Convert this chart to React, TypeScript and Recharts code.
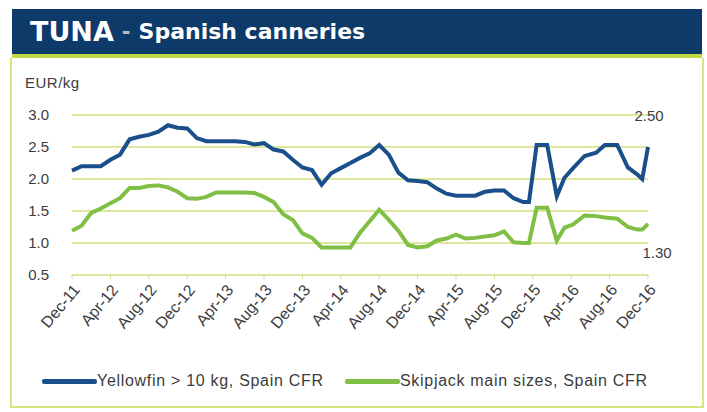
import { CartesianGrid, Legend, Line, LineChart, XAxis, YAxis } from "recharts";

// month offsets from Dec-11 (0) to Dec-16 (60); a few extra points around the spikes
const months = [
  0, 1, 2, 3, 4, 5, 6, 7, 8, 9, 10, 11, 12, 13, 14, 15, 16, 17, 18, 19, 20,
  21, 22, 23, 24, 25, 26, 27, 28, 29, 30, 31, 32, 33, 34, 35, 36, 37, 38, 39,
  40, 41, 42, 43, 44, 45, 46, 47, 47.6, 48.4, 49.5, 50.5, 51.3, 52.2, 53.4,
  54.6, 55.5, 56.8, 57.9, 58.9, 59.4, 60,
];

const yellowfin = [
  2.13, 2.2, 2.2, 2.2, 2.3, 2.38, 2.62, 2.66, 2.69, 2.74, 2.84, 2.8, 2.79,
  2.64, 2.59, 2.59, 2.59, 2.59, 2.58, 2.54, 2.56, 2.46, 2.43, 2.3, 2.18, 2.14,
  1.91, 2.09, 2.17, 2.25, 2.33, 2.4, 2.53, 2.38, 2.1, 1.98, 1.97, 1.95, 1.85,
  1.77, 1.74, 1.74, 1.74, 1.8, 1.82, 1.82, 1.7, 1.64, 1.64, 2.53, 2.53, 1.73,
  2.02, 2.17, 2.36, 2.41, 2.53, 2.53, 2.18, 2.07, 2.0, 2.5,
];

const skipjack = [
  1.19, 1.27, 1.47, 1.54, 1.62, 1.7, 1.86, 1.86, 1.89, 1.9, 1.87, 1.8, 1.7,
  1.69, 1.72, 1.79, 1.79, 1.79, 1.79, 1.78, 1.72, 1.64, 1.45, 1.36, 1.15, 1.08,
  0.93, 0.93, 0.93, 0.93, 1.16, 1.34, 1.52, 1.36, 1.19, 0.97, 0.93, 0.95, 1.04,
  1.07, 1.13, 1.07, 1.08, 1.1, 1.12, 1.18, 1.01, 1.0, 1.0, 1.55, 1.55, 1.04,
  1.24, 1.29, 1.43, 1.42, 1.4, 1.38, 1.25, 1.21, 1.21, 1.3,
];

const xTicks = [0, 4, 8, 12, 16, 20, 24, 28, 32, 36, 40, 44, 48, 52, 56, 60];
const xLabels = [
  "Dec-11", "Apr-12", "Aug-12", "Dec-12", "Apr-13", "Aug-13", "Dec-13", "Apr-14",
  "Aug-14", "Dec-14", "Apr-15", "Aug-15", "Dec-15", "Apr-16", "Aug-16", "Dec-16",
];
const yTicks = [0.5, 1.0, 1.5, 2.0, 2.5, 3.0];

const seriesNames = ["Yellowfin > 10 kg, Spain CFR", "Skipjack main sizes, Spain CFR"];

const BLUE = "#1b4f8c";
const GREEN = "#7fbf45";
const GRID = "#e0e69e";
const TEXT = "#3c3c3c";
const FONT = "Arial, 'Liberation Sans', Helvetica, sans-serif";

const data = months.map((t, i) => ({
  t,
  yellowfin: yellowfin[i],
  skipjack: skipjack[i],
}));

const lastIndex = data.length - 1;

function endLabel(dx: number, dy: number) {
  return (props: any) => {
    const { x, y, index, value } = props;
    if (index !== lastIndex) return null;
    return (
      <text
        x={x + dx}
        y={y + dy}
        textAnchor="middle"
        dominantBaseline="central"
        fontSize={15}
        fontFamily={FONT}
        fill={TEXT}
      >
        {Number(value).toFixed(2)}
      </text>
    );
  };
}

function LegendContent({ payload }: any) {
  const lefts = [42, 345];
  const items = [...(payload || [])].sort(
    (a: any, b: any) => seriesNames.indexOf(a.value) - seriesNames.indexOf(b.value)
  );
  return (
    <div style={{ position: "relative", height: 20 }}>
      {items.map((item: any, i: number) => (
        <div
          key={item.value}
          style={{
            position: "absolute",
            left: lefts[i],
            top: 0,
            display: "flex",
            alignItems: "center",
            whiteSpace: "nowrap",
          }}
        >
          <span
            style={{
              display: "inline-block",
              width: 55,
              height: 5,
              background: item.color,
              borderRadius: 2,
            }}
          />
          <span
            style={{
              fontFamily: FONT,
              fontSize: 16,
              letterSpacing: 0.7,
              color: TEXT,
            }}
          >
            {item.value}
          </span>
        </div>
      ))}
    </div>
  );
}

export default function App() {
  return (
    <div
      style={{
        position: "absolute",
        left: 0,
        top: 0,
        width: 707,
        height: 412,
        background: "#ffffff",
        overflow: "hidden",
      }}
    >
      {/* panel frame */}
      <div
        style={{
          position: "absolute",
          left: 10,
          top: 58,
          width: 690,
          height: 348,
          border: "2px solid #d9e47f",
          borderTop: "none",
        }}
      />
      {/* header */}
      <div
        style={{
          position: "absolute",
          left: 12,
          top: 9,
          width: 690,
          height: 49,
          background: "#0d3a69",
          borderBottom: "4px solid #c3d744",
          display: "flex",
          alignItems: "center",
          paddingLeft: 18,
          boxSizing: "border-box",
          fontFamily: "'DejaVu Sans', Verdana, sans-serif",
          fontWeight: 700,
          color: "#ffffff",
          whiteSpace: "nowrap",
        }}
      >
        <span style={{ fontSize: 27 }}>TUNA</span>
        <span style={{ fontSize: 21, color: "#b9b9b9", margin: "0 8px" }}>-</span>
        <span style={{ fontSize: 22 }}>Spanish canneries</span>
      </div>
      <div
        style={{
          position: "absolute",
          left: 25,
          top: 74,
          fontFamily: FONT,
          fontSize: 15,
          letterSpacing: 0.5,
          color: TEXT,
        }}
      >
        EUR/kg
      </div>
      <div style={{ position: "absolute", left: 0, top: 0 }}>
        <LineChart
          width={707}
          height={412}
          data={data}
          margin={{ top: 115, right: 59, bottom: 57, left: 0 }}
        >
          <CartesianGrid horizontal vertical={false} stroke={GRID} strokeWidth={2} />
          <XAxis
            dataKey="t"
            type="number"
            domain={[0, 60]}
            ticks={xTicks}
            tickFormatter={(v: number) => xLabels[xTicks.indexOf(v)] ?? ""}
            interval={0}
            height={60}
            axisLine={{ stroke: GRID, strokeWidth: 2 }}
            tickLine={{ stroke: "#cfd68a" }}
            tickSize={4}
            tickMargin={4}
            angle={-50}
            textAnchor="end"
            tick={{ fontSize: 16, fill: TEXT, fontFamily: FONT }}
          />
          <YAxis
            type="number"
            domain={[0.5, 3.0]}
            ticks={yTicks}
            tickFormatter={(v: number) => v.toFixed(1)}
            width={72}
            axisLine={false}
            tickLine={false}
            tickSize={0}
            tickMargin={23}
            tick={{ fontSize: 15, fill: TEXT, fontFamily: FONT }}
          />
          <Line
            type="linear"
            dataKey="yellowfin"
            name={seriesNames[0]}
            stroke={BLUE}
            strokeWidth={4}
            dot={false}
            isAnimationActive={false}
            label={endLabel(1, -32)}
          />
          <Line
            type="linear"
            dataKey="skipjack"
            name={seriesNames[1]}
            stroke={GREEN}
            strokeWidth={4}
            dot={false}
            isAnimationActive={false}
            label={endLabel(9, 29)}
          />
          <Legend
            content={<LegendContent />}
            wrapperStyle={{ position: "absolute", left: 0, top: 372, width: 707 }}
          />
        </LineChart>
      </div>
    </div>
  );
}
